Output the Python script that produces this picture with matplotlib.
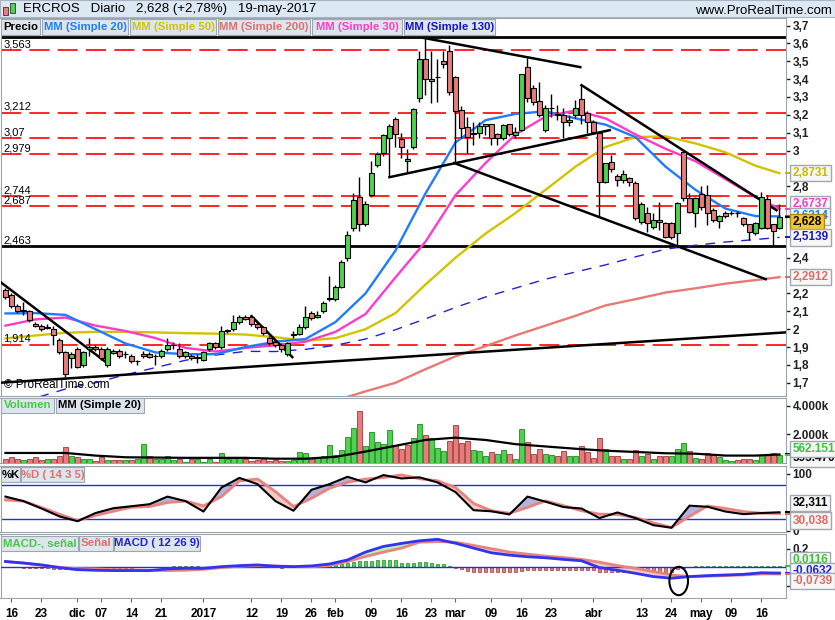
import numpy as np
import pandas as pd
import matplotlib
matplotlib.use("Agg")
import matplotlib.pyplot as plt
import matplotlib.transforms as mtransforms
from matplotlib.patches import Rectangle, Ellipse

plt.rcParams['font.family'] = ['Liberation Sans', 'DejaVu Sans']

# sesiones de la bolsa (sin festivos)
holidays = ['2016-12-26', '2017-04-14', '2017-04-17', '2017-05-01']
dates = pd.bdate_range('2016-11-15', '2017-05-19')
dates = dates[~dates.isin(pd.to_datetime(holidays))]

opens = [2.22, 2.19, 2.13, 2.11, 2.10, 2.03, 2.02, 2.015, 2.00, 1.94,
         1.87, 1.84, 1.89, 1.80, 1.89, 1.90, 1.89, 1.80, 1.865, 1.88,
         1.86, 1.85, 1.82, 1.85, 1.86, 1.85, 1.85, 1.89, 1.91, 1.89,
         1.85, 1.85, 1.84, 1.83, 1.89, 1.92, 1.90, 1.99, 2.00, 2.04,
         2.07, 2.07, 2.03, 2.01, 1.95, 1.93, 1.91, 1.86, 1.975, 1.975,
         2.01, 2.09, 2.07, 2.10, 2.17, 2.17, 2.235, 2.40, 2.565, 2.74,
         2.59, 2.75, 2.92, 2.985, 3.07, 3.176, 3.064, 2.94, 3.021, 3.296,
         3.512, 3.39, 3.41, 3.50, 3.56, 3.41, 3.226, 3.133, 3.095, 3.096,
         3.137, 3.146, 3.09, 3.068, 3.146, 3.087, 3.115, 3.465, 3.352, 3.28,
         3.114, 3.236, 3.20, 3.199, 3.16, 3.199, 3.288, 3.208, 3.161, 3.096,
         2.825, 2.937, 2.859, 2.835, 2.844, 2.82, 2.60, 2.652, 2.573, 2.614,
         2.592, 2.592, 2.54, 2.993, 2.737, 2.652, 2.756, 2.75, 2.667, 2.607,
         2.652, 2.65, 2.652, 2.62, 2.588, 2.536, 2.564, 2.726, 2.588, 2.564]
highs = [2.23, 2.20, 2.14, 2.15, 2.11, 2.04, 2.03, 2.03, 2.02, 1.95,
         1.88, 1.87, 1.90, 1.88, 1.95, 1.91, 1.90, 1.90, 1.89, 1.89,
         1.88, 1.86, 1.83, 1.88, 1.87, 1.86, 1.89, 1.95, 1.93, 1.92,
         1.88, 1.86, 1.86, 1.88, 1.93, 1.93, 2.02, 2.00, 2.08, 2.08,
         2.08, 2.08, 2.04, 2.02, 1.96, 1.94, 1.92, 1.93, 1.99, 2.03,
         2.13, 2.10, 2.10, 2.16, 2.30, 2.25, 2.39, 2.55, 2.76, 2.85,
         2.72, 2.94, 2.99, 3.09, 3.15, 3.19, 3.10, 3.01, 3.24, 3.56,
         3.63, 3.56, 3.515, 3.56, 3.59, 3.42, 3.25, 3.19, 3.16, 3.16,
         3.15, 3.15, 3.10, 3.15, 3.15, 3.13, 3.43, 3.516, 3.366, 3.385,
         3.255, 3.314, 3.255, 3.236, 3.20, 3.283, 3.366, 3.22, 3.17, 3.10,
         2.93, 2.975, 2.87, 2.89, 2.85, 2.83, 2.71, 2.685, 2.648, 2.714,
         2.60, 2.60, 2.714, 3.0, 2.76, 2.74, 2.80, 2.806, 2.68, 2.64,
         2.66, 2.66, 2.66, 2.63, 2.59, 2.60, 2.77, 2.75, 2.59, 2.703]
lows = [2.17, 2.12, 2.09, 2.08, 2.04, 2.01, 1.99, 2.00, 1.91, 1.86,
        1.73, 1.78, 1.78, 1.79, 1.85, 1.88, 1.83, 1.79, 1.86, 1.84,
        1.84, 1.81, 1.80, 1.84, 1.84, 1.80, 1.84, 1.88, 1.89, 1.84,
        1.84, 1.83, 1.81, 1.82, 1.88, 1.89, 1.89, 1.98, 1.99, 2.03,
        2.05, 2.02, 2.00, 1.97, 1.91, 1.90, 1.87, 1.85, 1.95, 1.97,
        2.00, 2.05, 2.06, 2.09, 2.16, 2.16, 2.23, 2.38, 2.55, 2.55,
        2.58, 2.74, 2.91, 2.97, 2.853, 3.02, 2.956, 2.88, 3.01, 3.27,
        3.31, 3.264, 3.27, 3.46, 3.31, 2.928, 3.068, 2.984, 3.03, 3.068,
        3.087, 3.03, 3.03, 3.06, 3.08, 3.068, 3.11, 3.273, 3.255, 3.19,
        3.105, 3.19, 3.17, 3.068, 3.14, 3.18, 3.15, 3.096, 3.09, 2.63,
        2.816, 2.88, 2.80, 2.816, 2.80, 2.61, 2.59, 2.545, 2.56, 2.554,
        2.51, 2.505, 2.47, 2.72, 2.65, 2.573, 2.67, 2.582, 2.60, 2.564,
        2.62, 2.64, 2.63, 2.58, 2.50, 2.53, 2.56, 2.56, 2.465, 2.56]
closes = [2.18, 2.13, 2.10, 2.10, 2.05, 2.02, 2.00, 2.005, 1.97, 1.87,
          1.75, 1.86, 1.79, 1.87, 1.90, 1.89, 1.84, 1.89, 1.88, 1.85,
          1.86, 1.82, 1.82, 1.86, 1.845, 1.85, 1.88, 1.91, 1.91, 1.85,
          1.87, 1.84, 1.84, 1.87, 1.92, 1.90, 1.99, 1.995, 2.04, 2.07,
          2.055, 2.03, 2.01, 1.98, 1.92, 1.91, 1.89, 1.92, 1.965, 2.01,
          2.07, 2.06, 2.08, 2.145, 2.175, 2.235, 2.375, 2.525, 2.725, 2.59,
          2.70, 2.875, 2.98, 3.087, 3.14, 3.09, 3.021, 2.955, 3.232, 3.512,
          3.398, 3.40, 3.41, 3.486, 3.325, 3.223, 3.128, 3.077, 3.095, 3.137,
          3.146, 3.068, 3.068, 3.143, 3.09, 3.105, 3.426, 3.296, 3.273, 3.198,
          3.236, 3.236, 3.20, 3.158, 3.17, 3.236, 3.20, 3.161, 3.105, 2.825,
          2.928, 2.894, 2.835, 2.868, 2.825, 2.625, 2.698, 2.592, 2.611, 2.601,
          2.517, 2.517, 2.704, 2.732, 2.657, 2.737, 2.685, 2.652, 2.614, 2.633,
          2.633, 2.652, 2.648, 2.588, 2.545, 2.596, 2.741, 2.564, 2.551, 2.628]
volume_k = [314, 450, 314, 177, 245, 400, 177, 245, 314, 472,
            1112, 518, 450, 314, 314, 130, 400, 177, 177, 220,
            177, 177, 245, 1316, 518, 314, 245, 518, 177, 245,
            85, 245, 245, 85, 245, 85, 700, 245, 450, 450,
            245, 130, 177, 360, 130, 177, 130, 130, 177, 770,
            700, 314, 450, 518, 1270, 586, 928, 1795, 2410, 3660,
            1200, 2137, 1453, 1316, 2296, 1270, 996, 1225, 1725, 2750,
            1952, 1727, 1044, 860, 1543, 2635, 1386, 1543, 928, 860,
            518, 771, 635, 928, 635, 245, 2362, 1453, 635, 996,
            635, 586, 472, 860, 472, 472, 1155, 771, 360, 1770,
            996, 518, 472, 245, 245, 928, 518, 635, 245, 518,
            472, 518, 996, 1386, 860, 360, 314, 700, 635, 400,
            177, 130, 177, 314, 314, 177, 540, 540, 700, 562]

# medias moviles leidas cada 5 sesiones
ma_days = list(range(0, 130, 5)) + [129]
ma20 = [2.088, 2.09, 2.08, 2.00, 1.92, 1.87, 1.86, 1.86, 1.90, 1.93, 1.945, 2.04, 2.20,
        2.44, 2.76, 3.045, 3.17, 3.205, 3.22, 3.18, 3.145, 3.075, 2.91, 2.78, 2.675, 2.633, 2.6314]
ma30 = [2.02, 2.055, 2.065, 2.02, 1.99, 1.95, 1.895, 1.875, 1.895, 1.91, 1.93, 1.985, 2.085,
        2.29, 2.49, 2.75, 2.93, 3.09, 3.19, 3.225, 3.18, 3.09, 3.01, 2.94, 2.84, 2.74, 2.6737]
ma50 = [1.948, 1.965, 1.98, 1.985, 1.985, 1.982, 1.978, 1.975, 1.97, 1.955, 1.935, 1.95, 2.0,
        2.09, 2.25, 2.40, 2.535, 2.65, 2.78, 2.91, 3.02, 3.075, 3.08, 3.04, 2.99, 2.915, 2.8731]
ma130 = [1.55, 1.615, 1.665, 1.70, 1.745, 1.785, 1.826, 1.855, 1.876, 1.875, 1.887, 1.91, 1.945,
         1.997, 2.058, 2.122, 2.18, 2.23, 2.28, 2.32, 2.36, 2.405, 2.448, 2.47, 2.488, 2.502, 2.5139]
ma200 = [np.nan] * 11 + [1.60, 1.652, 1.70, 1.776, 1.848, 1.905, 1.965, 2.02, 2.075, 2.133,
                         2.168, 2.205, 2.229, 2.255, 2.275, 2.2912]
vol_ma20_k = [700, 700, 700, 518, 400, 380, 360, 360, 360, 300, 300, 430, 800, 1200, 1610,
              1770, 1610, 1316, 1155, 996, 860, 771, 680, 650, 518, 518, 595]

# osciladores leidos cada 3 sesiones
osc_days = list(range(0, 130, 3))
pct_k = [60, 52, 39, 25, 16.5, 31, 39.5, 43, 46.5, 60, 52, 33.6, 76, 93, 82, 52, 35, 72, 82, 95,
         85, 98, 92, 94, 85, 68, 36, 34, 28.5, 60, 51, 41.5, 39, 22, 32, 22, 9.5, 5, 44, 42,
         33.6, 29, 31, 32.311]
pct_d = [54, 52, 40.7, 28.9, 17.7, 26.5, 34.2, 41.2, 42.4, 49.5, 52, 43.6, 60, 87.7, 91, 68.8,
         42.4, 57, 74.7, 85.3, 91, 93.6, 98.3, 91.5, 88, 76, 48, 35, 30.6, 41, 52.4, 44, 35, 29,
         28.5, 23, 13.5, 5.5, 25, 43.5, 39, 33.6, 30.6, 30.038]
macd = [0.063, 0.047, 0.026, -0.004, -0.026, -0.033, -0.036, -0.036, -0.036, -0.018, -0.011,
        -0.011, 0.007, 0.018, 0.026, 0.011, 0.007, 0.015, 0.036, 0.08, 0.166, 0.228, 0.261, 0.29,
        0.306, 0.263, 0.21, 0.158, 0.133, 0.115, 0.104, 0.086, 0.071, -0.004, -0.033, -0.066,
        -0.102, -0.12, -0.102, -0.091, -0.084, -0.077, -0.06, -0.0632]
signal = [0.063, 0.045, 0.022, 0.0, -0.015, -0.018, -0.026, -0.029, -0.033, -0.036, -0.033,
          -0.022, -0.004, 0.011, 0.018, 0.015, 0.007, 0.007, 0.018, 0.063, 0.118, 0.166, 0.21,
          0.274, 0.281, 0.274, 0.239, 0.203, 0.166, 0.144, 0.122, 0.107, 0.086, 0.056, 0.018,
          -0.011, -0.048, -0.084, -0.102, -0.098, -0.091, -0.084, -0.073, -0.0739]
macd_hist = ([0.0, 0.0, -0.002]
             + [-0.006, -0.008, -0.01, -0.012, -0.012, -0.014, -0.016, -0.014, -0.012, -0.012,
                -0.01, -0.01, -0.008, -0.008, -0.008, -0.006, -0.006]
             + [-0.004, -0.003, -0.002, -0.001, 0.002, 0.004]
             + [0.006, 0.008, 0.01, 0.01, 0.01, 0.01, 0.009, 0.008, 0.008, 0.008, 0.01, 0.01,
                0.01, 0.009, 0.008, 0.006, 0.005, 0.004, 0.003, 0.002]
             + [-0.004]
             + [0.002, 0.003, 0.004, 0.005, 0.006, 0.008, 0.01]
             + [0.015, 0.025, 0.036, 0.05, 0.062, 0.069, 0.069, 0.073, 0.08, 0.08, 0.08, 0.08,
                0.05, 0.044, 0.044, 0.055]
             + [0.055, 0.044, 0.033, 0.033, 0.015, -0.011, -0.018, -0.036, -0.055]
             + [-0.055] * 7 + [-0.036] + [-0.029] * 12 + [-0.048] * 3 + [-0.055]
             + [-0.048] * 9 + [-0.02, -0.005, 0.005] + [0.01] * 14 + [0.0116])

# niveles y lineas de tendencia dibujadas
red_levels = [3.563, 3.212, 3.07, 2.979, 2.744, 2.687, 1.914]
black_levels = [3.635, 2.463]
trend_lines = [[(-1, 2.268), (17, 1.809)], [(-1, 1.70), (130, 1.982)],
               [(41, 2.073), (47.8, 1.844)], [(64, 2.851), (100.7, 3.114)],
               [(69.8, 3.63), (95.8, 3.467)], [(74.8, 2.93), (126.7, 2.28)],
               [(96, 3.366), (128.5, 2.666)]]
macd_circle = (112.2, -0.15)

x_labels = [('2016-11-16', '16'), ('2016-11-23', '23'), ('2016-12-01', 'dic'), ('2016-12-07', '07'),
            ('2016-12-14', '14'), ('2016-12-21', '21'), ('2017-01-02', '2017'), ('2017-01-12', '12'),
            ('2017-01-19', '19'), ('2017-01-26', '26'), ('2017-02-01', 'feb'), ('2017-02-09', '09'),
            ('2017-02-16', '16'), ('2017-02-23', '23'), ('2017-03-01', 'mar'), ('2017-03-09', '09'),
            ('2017-03-16', '16'), ('2017-03-23', '23'), ('2017-04-03', 'abr'), ('2017-04-13', '13'),
            ('2017-04-24', '24'), ('2017-05-02', 'may'), ('2017-05-09', '09'), ('2017-05-16', '16')]

GREEN, RED = '#4fd24f', '#e87c7c'
W, H = 835, 620
n = len(dates)
x = np.arange(n)
o, h, l, c = map(np.array, (opens, highs, lows, closes))

fig = plt.figure(figsize=(W / 100, H / 100), dpi=100)
fig.patch.set_facecolor('white')


def panel(top, bottom):
    ax = fig.add_axes([0.5 / W, 1 - bottom / H, 785 / W, (bottom - top) / H])
    ax.set_xlim(-0.83, 130)
    ax.yaxis.tick_right()
    ax.tick_params(axis='y', length=3, width=1, labelsize=8.5, pad=2, colors='#222222')
    ax.tick_params(axis='x', bottom=False, labelbottom=False)
    for s in ax.spines.values():
        s.set_color('#9aa4ae')
    return ax


def set_ticks(ax, ticks, labels):
    ax.set_yticks(ticks)
    ax.set_yticklabels(labels, fontweight='bold')


def value_box(ax, y, text, color, dy=0, fc='#f7f7f7', ec='#a0a8b0'):
    ax.annotate(text, xy=(1.0, y), xycoords=('axes fraction', 'data'),
                xytext=(5, dy * 0.72), textcoords='offset points', ha='left', va='center',
                fontsize=8.5, fontweight='bold', color=color, annotation_clip=False, zorder=30,
                bbox=dict(boxstyle='square,pad=0.18', fc=fc, ec=ec, lw=1))
    tr = mtransforms.blended_transform_factory(ax.transAxes, ax.transData)
    ax.plot([1.0, 1.007], [y, y], color=color, lw=1.5, transform=tr, clip_on=False, zorder=29)


def legend_row(items, y0, y1):
    # cajas de leyenda con su extension en pixeles
    for text, color, x0, x1 in items:
        fig.patches.append(Rectangle((x0 / W, 1 - y1 / H), (x1 - x0) / W, (y1 - y0) / H,
                                     transform=fig.transFigure, fc='#dfe5ec', ec='#9ba7b3',
                                     lw=0.8, zorder=39))
        fig.text((x0 + x1) / 2 / W, 1 - (y0 + y1) / 2 / H, text, color=color, fontsize=8.2,
                 fontweight='bold', va='center', ha='center', zorder=40)


# ---- precio ----
ax = panel(18, 396)
ax.set_ylim(1.626, 3.742)
for lv in red_levels:
    ax.axhline(lv, color='red', lw=1.2, dashes=(12, 5), zorder=1)
    ax.annotate(f'{lv:g}'.replace('.', ','), xy=(0, lv), xycoords=('axes fraction', 'data'),
                xytext=(2, 0.5), textcoords='offset points', va='bottom', fontsize=8)
for lv in black_levels:
    ax.axhline(lv, color='black', lw=2, zorder=1)
ax.annotate('2,463', xy=(0, 2.463), xycoords=('axes fraction', 'data'), xytext=(2, 1),
            textcoords='offset points', va='bottom', fontsize=8)

ax.plot(ma_days, ma130, color='#2222cc', lw=1, dashes=(7, 6), zorder=2)
ax.plot(ma_days, ma200, color='#e77a74', lw=1.7, zorder=2)
ax.plot(ma_days, ma50, color='#d0c400', lw=1.7, zorder=2)
ax.plot(ma_days, ma30, color='#ff3cc8', lw=1.7, zorder=2)
ax.plot(ma_days, ma20, color='#1e7cff', lw=1.7, zorder=2)

for seg in trend_lines:
    (x0, y0), (x1, y1) = seg
    ax.plot([x0, x1], [y0, y1], color='black', lw=1.8, zorder=3)

ax.vlines(x, l, h, color='black', lw=1, zorder=4)
for i in range(n):
    up = c[i] >= o[i]
    bot = min(o[i], c[i])
    hgt = max(abs(c[i] - o[i]), 0.002)
    ax.add_patch(Rectangle((i - 0.37, bot), 0.74, hgt, fc=GREEN if up else RED,
                           ec='black', lw=0.8, zorder=5))

ax.text(0.004, 0.012, '\u00a9 ProRealTime.com', transform=ax.transAxes, fontsize=8.5,
        va='bottom', ha='left')
set_ticks(ax, [1.7, 1.8, 1.9, 2.0, 2.1, 2.2, 2.4, 2.8, 3.0, 3.1, 3.2, 3.3, 3.4, 3.5, 3.6, 3.7],
          ['1,7', '1,8', '1,9', '2', '2,1', '2,2', '2,4', '2,8', '3', '3,1', '3,2', '3,3',
           '3,4', '3,5', '3,6', '3,7'])
value_box(ax, ma50[-1], '2,8731', '#c8bc00')
value_box(ax, ma30[-1], '2,6737', '#ff3cc8', dy=5)
value_box(ax, ma20[-1], '2,6314', '#1e7cff')
value_box(ax, closes[-1], '2,628', 'black', dy=-5, fc='#f7c531', ec='#b08a10')
value_box(ax, ma130[-1], '2,5139', '#1a1ac0')
value_box(ax, ma200[-1], '2,2912', '#e06a64')

# ---- volumen ----
axv = panel(398, 463)
axv.set_ylim(0, 4540e3)
vol = np.array(volume_k) * 1000
prev = np.r_[o[0], c[:-1]]
vcol = [GREEN if c[i] >= prev[i] else RED for i in range(n)]
vedge = ['#1f8a1f' if cc == GREEN else '#a03a3a' for cc in vcol]
axv.bar(x, vol, width=0.7, color=vcol, edgecolor=vedge, lw=0.6, zorder=2)
axv.plot(ma_days, np.array(vol_ma20_k) * 1000, color='black', lw=1.6, zorder=3)
set_ticks(axv, [2000e3, 4000e3], ['2.000k', '4.000k'])
value_box(axv, vol_ma20_k[-1] * 1000, '595.470', 'black', dy=-4)
value_box(axv, volume_k[-1] * 1000, '562.151', '#3cc43c', dy=6)

# ---- estocastico ----
axs = panel(466, 532)
axs.set_ylim(-2.5, 114)
k_arr, d_arr = np.array(pct_k), np.array(pct_d)
axs.fill_between(osc_days, k_arr, d_arr, where=k_arr >= d_arr, interpolate=True,
                 color='#b4b4da', lw=0, zorder=1)
axs.fill_between(osc_days, k_arr, d_arr, where=k_arr < d_arr, interpolate=True,
                 color='#f5c9c4', lw=0, zorder=1)
axs.axhline(80, color='#2a2ae0', lw=1, zorder=2)
axs.axhline(20, color='#2a2ae0', lw=1, zorder=2)
axs.plot(osc_days, d_arr, color='#e8837e', lw=2, zorder=3)
axs.plot(osc_days, k_arr, color='black', lw=1.5, zorder=4)
set_ticks(axs, [0, 100], ['0', '100'])
value_box(axs, pct_k[-1], '32,311', 'black', dy=9)
value_box(axs, pct_d[-1], '30,038', '#e06a64', dy=-7)

# ---- MACD ----
axm = panel(534, 598)
axm.set_ylim(-0.336, 0.364)
m_arr, s_arr = np.array(macd), np.array(signal)
hist = np.array(macd_hist)
axm.bar(x, hist, width=0.6, color=[GREEN if v >= 0 else RED for v in hist],
        edgecolor=['#1f8a1f' if v >= 0 else '#a03a3a' for v in hist], lw=0.5, zorder=1)
axm.fill_between(osc_days, m_arr, s_arr, where=m_arr >= s_arr, interpolate=True,
                 color='#b8f0b0', lw=0, zorder=2)
axm.fill_between(osc_days, m_arr, s_arr, where=m_arr < s_arr, interpolate=True,
                 color='#f5c9c4', lw=0, zorder=2)
axm.axhline(0, color='#2a2ae0', lw=1, zorder=3)
axm.plot(osc_days, s_arr, color='#e8837e', lw=2, zorder=4)
axm.plot(osc_days, m_arr, color='#3333ee', lw=2, zorder=5)
axm.add_patch(Ellipse(macd_circle, 3.1, 0.31, fc='none', ec='black', lw=1.5, zorder=6))
set_ticks(axm, [-0.2, 0.2], ['-0.2', '0.2'])
value_box(axm, hist[-1], '0,0116', '#3cc43c', dy=6)
value_box(axm, macd[-1], '-0,0632', '#2222dd', dy=2)
value_box(axm, signal[-1], '-0,0739', '#e06a64', dy=-7)

pos = [dates.get_loc(pd.Timestamp(d)) for d, _ in x_labels]
axm.tick_params(axis='x', bottom=True, labelbottom=True, length=3, color='#666666',
                labelsize=8.5, pad=4)
axm.set_xticks(pos)
axm.set_xticklabels([t for _, t in x_labels], fontweight='bold')

# ---- barra de titulo y leyendas ----
fig.patches.append(Rectangle((0, 1 - 17 / H), 1, 17 / H, transform=fig.transFigure,
                             fc='#dce9f4', ec='#a8b4c0', lw=0.8, zorder=0))
fig.patches.append(Rectangle((3 / W, 1 - 15 / H), 5 / W, 8 / H, transform=fig.transFigure,
                             fc=RED, ec='#333333', lw=0.6, zorder=1))
fig.patches.append(Rectangle((10 / W, 1 - 13 / H), 5 / W, 10 / H, transform=fig.transFigure,
                             fc=GREEN, ec='#333333', lw=0.6, zorder=1))
fig.text(23 / W, 1 - 9 / H, 'ERCROS   Diario   2,628 (+2,78%)   19-may-2017', fontsize=9.5,
         va='center', ha='left')
fig.text(832 / W, 1 - 11 / H, 'www.ProRealTime.com', fontsize=9.5, va='center', ha='right')

legend_row([('Precio', 'black', 1, 40), ('MM (Simple 20)', '#1e7cff', 42, 128),
            ('MM (Simple 50)', '#d0c400', 130, 216), ('MM (Simple 200)', '#e07070', 218, 310),
            ('MM (Simple 30)', '#ff3cc8', 312, 402), ('MM (Simple 130)', '#1515c8', 404, 495)],
           19, 35)
legend_row([('Volumen', '#44c844', 1, 54), ('MM (Simple 20)', 'black', 56, 144)], 398, 413)
legend_row([('%K', 'black', 1, 20), ('%D ( 14 3 5)', '#e07070', 21, 84)], 467, 482)
legend_row([('MACD-, señal', '#44c844', 1, 78), ('Señal', '#e07070', 79, 113),
            ('MACD ( 12 26 9)', '#2222dd', 114, 200)], 536, 551)

fig.savefig('out.png', dpi=100)
